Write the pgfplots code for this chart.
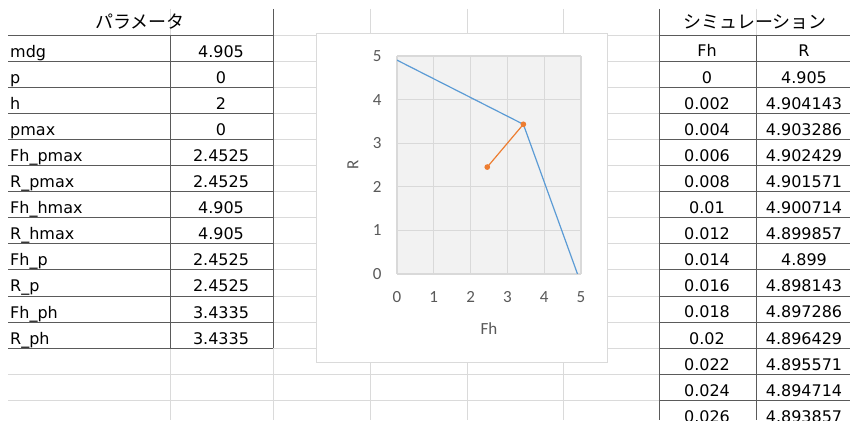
\documentclass[border=0pt]{standalone}
\usepackage{pgfplots}
\pgfplotsset{compat=1.18}
\usepackage{fontspec}
\setmainfont{DejaVu Sans}
\newfontfamily\jp{Noto Sans CJK JP}
\newfontfamily\cf{Carlito}
\definecolor{xgrid}{HTML}{DADADA}
\definecolor{tline}{HTML}{5A5A5A}
\definecolor{sblue}{HTML}{5B9BD5}
\definecolor{sorange}{HTML}{ED7D31}
\definecolor{tickgrey}{HTML}{595959}
\definecolor{plotbg}{HTML}{F2F2F2}
\definecolor{pgrid}{HTML}{D9D9D9}
\begin{document}
\begin{tikzpicture}
\useasboundingbox (0pt,0pt) rectangle (850pt,420pt);
\clip (0pt,0pt) rectangle (850pt,420pt);
\begin{scope}[x=1pt,y=-1pt,shift={(0pt,420pt)}]
  % spreadsheet gridlines
  \foreach \k in {0,...,14} \draw[xgrid,line width=0.8pt] (8,{35+26.1*\k}) -- (850,{35+26.1*\k});
  \foreach \x in {170,273,370,467,563,659,756} \draw[xgrid,line width=0.8pt] (\x,9) -- (\x,420);
  % left table borders
  \foreach \k in {0,...,12} \draw[tline,line width=0.8pt] (8,{35+26.1*\k}) -- (273,{35+26.1*\k});
  \draw[tline,line width=0.8pt] (170,35) -- (170,348.2);
  \draw[tline,line width=0.8pt] (273,9) -- (273,348.2);
  % right table borders
  \foreach \k in {0,...,14} \draw[tline,line width=0.8pt] (659,{35+26.1*\k}) -- (850,{35+26.1*\k});
  \draw[tline,line width=0.8pt] (659,9) -- (659,420);
  \draw[tline,line width=0.8pt] (756,35) -- (756,420);
  % left table text
  \node[font=\jp\fontsize{18}{18}\selectfont] at (140,22) {パラメータ};
  \foreach \l/\v [count=\i] in {mdg/4.905, p/0, h/2, pmax/0, Fh\_pmax/2.4525, R\_pmax/2.4525,
      Fh\_hmax/4.905, R\_hmax/4.905, Fh\_p/2.4525, R\_p/2.4525, Fh\_ph/3.4335, R\_ph/3.4335} {
    \node[anchor=base west,inner sep=0pt,font=\fontsize{16}{16}\selectfont] at (10,{35+26.1*\i-4}) {\l};
    \node[anchor=base,inner sep=0pt,font=\fontsize{16}{16}\selectfont] at (221,{35+26.1*\i-4}) {\v};
  }
  % right table text
  \node[font=\jp\fontsize{18}{18}\selectfont] at (755,22) {シミュレーション};
  \node[anchor=base,inner sep=0pt,font=\fontsize{16}{16}\selectfont] at (707,57) {Fh};
  \node[anchor=base,inner sep=0pt,font=\fontsize{16}{16}\selectfont] at (804,57) {R};
  \foreach \a/\b [count=\i] in {0/4.905, 0.002/4.904143, 0.004/4.903286, 0.006/4.902429,
      0.008/4.901571, 0.01/4.900714, 0.012/4.899857, 0.014/4.899, 0.016/4.898143,
      0.018/4.897286, 0.02/4.896429, 0.022/4.895571, 0.024/4.894714, 0.026/4.893857} {
    \node[anchor=base,inner sep=0pt,font=\fontsize{16}{16}\selectfont] at (707,{61+26.1*\i-4}) {\a};
    \node[anchor=base,inner sep=0pt,font=\fontsize{16}{16}\selectfont] at (804,{61+26.1*\i-4}) {\b};
  }
  % chart box
  \draw[xgrid,fill=white,line width=1pt] (316,34) rectangle (607,362);
\end{scope}
\begin{axis}[
  at={(397pt,146pt)}, anchor=south west,
  scale only axis, width=184pt, height=218pt,
  xmin=0, xmax=5, ymin=0, ymax=5,
  xtick={0,1,2,3,4,5}, ytick={0,1,2,3,4,5},
  grid=major, grid style={pgrid,line width=1.1pt},
  axis line style={draw=none}, tick style={draw=none},
  axis background/.style={fill=plotbg},
  /pgf/number format/assume math mode=true,
  ticklabel style={font=\cf\fontsize{17}{17}\selectfont, text=tickgrey},
  xticklabel style={yshift=-14pt},
  yticklabel style={xshift=-12pt},
  xlabel={Fh}, ylabel={R},
  every axis x label/.style={at={(axis description cs:0.5,-0.252)},anchor=center,font=\cf\fontsize{17}{17}\selectfont,text=tickgrey},
  every axis y label/.style={at={(axis description cs:-0.239,0.5)},rotate=90,anchor=center,font=\cf\fontsize{17}{17}\selectfont,text=tickgrey},
]
\addplot[sblue, line width=1.2pt, mark=none] coordinates {(0,4.905) (3.4335,3.4335) (4.905,0)};
\addplot[sorange, line width=1.2pt, mark=*, mark size=2.2pt, mark options={fill=sorange,draw=sorange}] coordinates {(2.4525,2.4525) (3.4335,3.4335)};
\end{axis}
\end{tikzpicture}
\end{document}
